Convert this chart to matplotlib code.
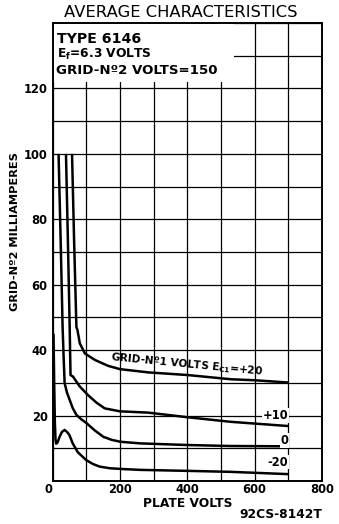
import numpy as np
import matplotlib.pyplot as plt
from matplotlib.patches import Rectangle

# Type 6146 beam power tube: grid-No.2 current vs plate volts
# one curve per grid-No.1 voltage (Ec1 = +20, +10, 0, -20)
ec1_labels = ['+20', '+10', '0', '-20']

plate_v_p20 = [58, 64, 71, 74, 81, 96, 126, 165, 200, 284, 400, 530, 600, 700]
g2_ma_p20 = [100, 74, 47, 46.2, 42.1, 39.0, 37.0, 35.2, 34.2, 33.2, 32.4, 31.1, 30.8, 30.1]

plate_v_p10 = [40, 46, 51, 53.5, 61, 80, 105, 130, 155, 200, 284, 400, 528, 700]
g2_ma_p10 = [100, 72, 47, 32.4, 31.9, 29.0, 26.3, 24.0, 22.2, 21.3, 20.9, 19.5, 18.1, 16.8]

plate_v_0 = [18, 25, 30, 33, 36, 43, 51, 60, 71, 85, 102, 125, 151, 175, 201, 260, 400, 528, 700]
g2_ma_0 = [100, 70, 47, 38, 29.9, 27.0, 24.8, 22.3, 20.2, 18.9, 17.6, 15.5, 13.5, 12.6, 12.0, 11.5, 11.0, 10.7, 10.6]

plate_v_m20 = [3, 5, 7, 9, 11, 15, 21, 28, 36, 43, 50, 60, 75, 100, 120, 140, 170, 200, 260, 400, 528, 700]
g2_ma_m20 = [45, 30, 18, 12.5, 11.4, 11.8, 13.5, 15.0, 15.6, 15.0, 14.1, 11.5, 8.8, 6.4, 5.2, 4.4, 3.9, 3.7, 3.4, 3.1, 2.8, 2.1]

curves = [(plate_v_p20, g2_ma_p20), (plate_v_p10, g2_ma_p10),
          (plate_v_0, g2_ma_0), (plate_v_m20, g2_ma_m20)]

x_ticks = np.arange(0, 801, 100)
x_ticklabels = ['0', '', '200', '', '400', '', '600', '', '800']
y_ticks = np.arange(0, 141, 10)
y_ticklabels = ['', '', '20', '', '40', '', '60', '', '80', '', '100', '', '120', '', '']

W, H = 339, 524
fig = plt.figure(figsize=(W / 100, H / 100), dpi=100)
ax = fig.add_axes([52.5 / W, 1 - 481 / H, (322 - 52.5) / W, (481 - 23) / H])

for v, ma in curves:
    ax.plot(v, ma, color='black', lw=1.8, solid_capstyle='butt', zorder=3)

ax.set_xlim(0, 800)
ax.set_ylim(0, 140)
ax.set_xticks(x_ticks)
ax.set_xticklabels(x_ticklabels)
ax.set_yticks(y_ticks)
ax.set_yticklabels(y_ticklabels)
ax.set_axisbelow(True)
ax.grid(True, color='black', lw=0.9)
ax.tick_params(length=0, labelsize=8.3)
ax.tick_params(axis='x', pad=1.5)
ax.tick_params(axis='y', pad=3.5)
for lbl in ax.get_xticklabels() + ax.get_yticklabels():
    lbl.set_fontweight('bold')
ax.get_xticklabels()[0].set_ha('right')
for s in ax.spines.values():
    s.set_linewidth(1.4)

# blank panel behind the tube data in the upper left
ax.add_patch(Rectangle((0, 122), 540, 18, facecolor='white', edgecolor='none', zorder=1))

bold = dict(fontweight='bold', color='black')
box = dict(facecolor='white', edgecolor='none', pad=0.6)

# curve labels
ax.text(174, 37.8, r'GRID-Nº1 VOLTS E$_\mathregular{C1}$=' + ec1_labels[0], fontsize=7.6,
        rotation=-5.5, rotation_mode='anchor', ha='left', va='center', zorder=4, **bold)
ax.text(700, 20.0, ec1_labels[1], fontsize=8.3, ha='right', va='center', bbox=box, zorder=4, **bold)
ax.text(700, 12.3, ec1_labels[2], fontsize=8.3, ha='right', va='center', bbox=box, zorder=4, **bold)
ax.text(700, 5.8, ec1_labels[3], fontsize=8.3, ha='right', va='center', bbox=box, zorder=4, **bold)

fig.text(181 / W, 1 - 12.5 / H, 'AVERAGE CHARACTERISTICS', fontsize=11.8, ha='center', va='center',
         color='black')
fig.text(57 / W, 1 - 39 / H, 'TYPE 6146', fontsize=10.2, ha='left', va='center', **bold)
fig.text(57 / W, 1 - 54 / H, r'E$_\mathregular{f}$=6.3 VOLTS', fontsize=8.8, ha='left', va='center', **bold)
fig.text(56 / W, 1 - 70 / H, 'GRID-Nº2 VOLTS=150', fontsize=9.6, ha='left', va='center', **bold)

fig.text(15 / W, 1 - 232 / H, 'GRID-Nº2 MILLIAMPERES', fontsize=8.2, rotation=90,
         ha='center', va='center', **bold)
fig.text(188 / W, 1 - 503.5 / H, 'PLATE VOLTS', fontsize=8.8, ha='center', va='center', **bold)
fig.text(322 / W, 1 - 515 / H, '92CS-8142T', fontsize=8.8, ha='right', va='center', **bold)

fig.savefig('out.png', dpi=100, facecolor='white')
